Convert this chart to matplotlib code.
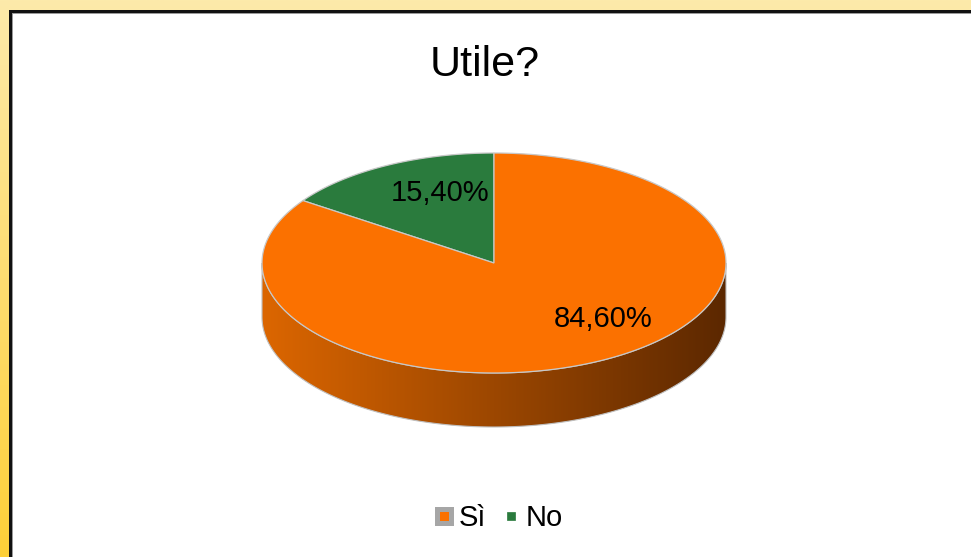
import numpy as np
import matplotlib
matplotlib.use("Agg")
import matplotlib.pyplot as plt
from matplotlib.patches import Polygon, Rectangle
from matplotlib.lines import Line2D

plt.rcParams['font.family'] = ['Liberation Sans', 'DejaVu Sans']

# data
title = "Utile?"
labels = ["Sì", "No"]
values = [84.6, 15.4]
label_texts = ["84,60%", "15,40%"]
colors = ["#FB7100", "#2A7B3D"]

W, H = 971, 557
fig = plt.figure(figsize=(W / 100, H / 100), dpi=100)
ax = fig.add_axes([0, 0, 1, 1])
ax.set_xlim(0, W)
ax.set_ylim(H, 0)
ax.axis("off")

# yellow frame background, vertical gradient
top = np.array([252, 234, 170]) / 255
bot = np.array([255, 208, 56]) / 255
g = np.linspace(0, 1, 256)[:, None]
bg = top[None, None, :] * (1 - g[..., None]) + bot[None, None, :] * g[..., None]
bg = np.repeat(bg, 2, axis=1)
ax.imshow(bg, extent=[0, W, H, 0], aspect="auto", zorder=0)

# white chart area with dark border
ax.add_patch(Rectangle((9, 10), W, H, facecolor="#111111", edgecolor="none", zorder=1))
ax.add_patch(Rectangle((12, 13), W, H, facecolor="#9a9a9a", edgecolor="none", zorder=1))
ax.add_patch(Rectangle((13, 14), W, H, facecolor="white", edgecolor="none", zorder=1))

ax.text(485, 65, title, fontsize=31, ha="center", va="center", color="#000000", zorder=5)

# 3D pie geometry
cx, cy, a, b, depth = 494, 263, 232, 110, 54


def pt(t, dy=0):
    return cx + a * np.cos(t), cy - b * np.sin(t) + dy


# side wall (front half), all of it belongs to the big slice
t = np.linspace(np.pi, 2 * np.pi, 200)
xs, ys = pt(t)
side = np.concatenate([np.c_[xs, ys], np.c_[xs[::-1], ys[::-1] + depth]])
side_poly = Polygon(side, closed=True, facecolor="none", edgecolor="#bfbfbf", lw=0.8, zorder=3)
ax.add_patch(side_poly)
left_c = np.array([220, 102, 0]) / 255
right_c = np.array([92, 40, 0]) / 255
gx = np.linspace(0, 1, 256)[None, :, None]
grad = left_c * (1 - gx) + right_c * gx
grad = np.repeat(grad, 2, axis=0)
im = ax.imshow(grad, extent=[cx - a, cx + a, cy + b + depth, cy], aspect="auto", zorder=2)
im.set_clip_path(Polygon(side, closed=True, transform=ax.transData))

# top face slices, starting at 12 o'clock, "No" counterclockwise to the left
fracs = np.array(values) / sum(values)
start = np.pi / 2
order = [1, 0]
for i in order:
    end = start + fracs[i] * 2 * np.pi
    tt = np.linspace(start, end, 200)
    px, py = pt(tt)
    verts = np.vstack([[cx, cy], np.c_[px, py]])
    ax.add_patch(Polygon(verts, closed=True, facecolor=colors[i], edgecolor="#c8c8c8",
                         lw=0.9, zorder=4))
    start = end

# data labels
label_pos = [(603, 319), (440, 193)]
for txt, (lx, ly) in zip(label_texts, label_pos):
    ax.text(lx, ly, txt, fontsize=21, ha="center", va="center", color="#000000", zorder=6)

# legend
handles = [
    Line2D([], [], ls="none", marker="s", markersize=9.4, markerfacecolor=colors[0],
           markeredgecolor="#a6a6a6", markeredgewidth=3.6),
    Line2D([], [], ls="none", marker="s", markersize=5.6, markerfacecolor=colors[1],
           markeredgecolor=colors[1], markeredgewidth=0.5),
]
leg = ax.legend(handles, labels, loc="center", bbox_to_anchor=(499 / W, 1 - 518 / H),
                ncol=2, frameon=False, fontsize=21, handlelength=0.6, handletextpad=0.2,
                columnspacing=0.55, borderpad=0)
for t_ in leg.get_texts():
    t_.set_color("#000000")

fig.savefig("out.png", dpi=100)
